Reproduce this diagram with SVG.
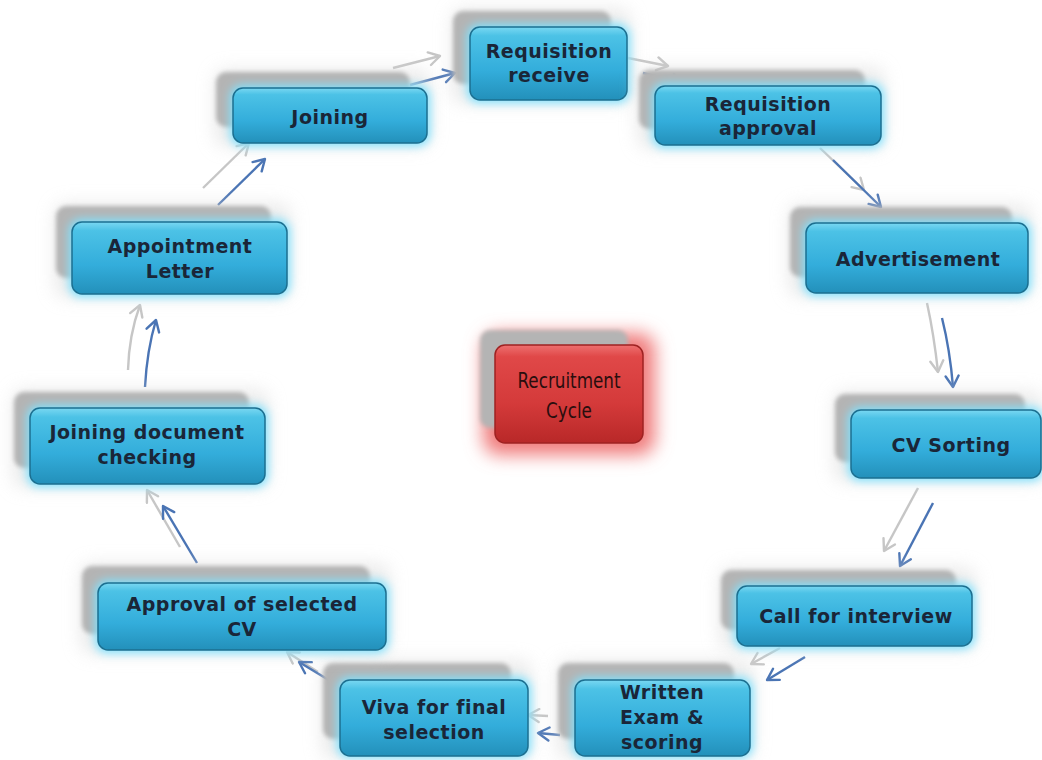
<svg xmlns="http://www.w3.org/2000/svg" width="1042" height="760" viewBox="0 0 1042 760">
<defs>
<linearGradient id="gBlue" x1="0" y1="0" x2="0" y2="1">
<stop offset="0" stop-color="#7ad8f2"/>
<stop offset="0.12" stop-color="#4cc2e6"/>
<stop offset="0.6" stop-color="#33addb"/>
<stop offset="1" stop-color="#2390ba"/>
</linearGradient>
<linearGradient id="gRed" x1="0" y1="0" x2="0" y2="1">
<stop offset="0" stop-color="#ee7070"/>
<stop offset="0.12" stop-color="#e04848"/>
<stop offset="0.6" stop-color="#d43a3a"/>
<stop offset="1" stop-color="#b82828"/>
</linearGradient>
<filter id="fGlow" x="-30%" y="-50%" width="160%" height="200%"><feGaussianBlur stdDeviation="5"/></filter>
<filter id="fShadow" x="-20%" y="-40%" width="140%" height="180%"><feGaussianBlur stdDeviation="2"/></filter>
<filter id="fHalo" x="-30%" y="-50%" width="160%" height="200%"><feGaussianBlur stdDeviation="9"/></filter>
<marker id="ahGray" viewBox="0 0 16 16" refX="13" refY="8" markerWidth="16" markerHeight="16" orient="auto" markerUnits="userSpaceOnUse">
<path d="M2,1.5 L13,8 L2,14.5" fill="none" stroke="#c6c6c6" stroke-width="2.4" stroke-linecap="round" stroke-linejoin="round"/>
</marker>
<marker id="ahBlue" viewBox="0 0 16 16" refX="13" refY="8" markerWidth="16" markerHeight="16" orient="auto" markerUnits="userSpaceOnUse">
<path d="M2,1.5 L13,8 L2,14.5" fill="none" stroke="#4a74b4" stroke-width="2.4" stroke-linecap="round" stroke-linejoin="round"/>
</marker>
</defs>
<style>
.halo{fill:#d8d8d8;opacity:0.55;filter:url(#fHalo)}
.shadow{fill:#b4b4b4;filter:url(#fShadow)}
.glow{fill:#7fe2ff;filter:url(#fGlow)}
.box{fill:url(#gBlue);stroke:#1c6f90;stroke-width:1.5}
.rglow{fill:#f07c7c;filter:url(#fHalo)}
.rbox{fill:url(#gRed);stroke:#9e2222;stroke-width:1.5}
.lbl{font-family:"DejaVu Sans","Liberation Sans",sans-serif;font-size:19px;font-weight:bold;fill:#1a2638;text-anchor:middle;letter-spacing:0.5px}
.rlbl{font-family:"DejaVu Sans","Liberation Sans",sans-serif;font-size:21px;font-weight:normal;fill:#2a0e0e;text-anchor:middle}
.cg{fill:none;stroke:#c6c6c6;stroke-width:2.4;marker-end:url(#ahGray)}
.cb{fill:none;stroke:#4a74b4;stroke-width:2.4;marker-end:url(#ahBlue)}
</style>
<rect width="1042" height="760" fill="#ffffff"/>

<g id="connectors">
<path class="cg" d="M393,68 L440,56"/>
<path class="cb" d="M410,85 L455,73"/>
<path class="cg" d="M628,58 L668,66"/>
<path class="cb" d="M643,73 L683,83"/>
<path class="cg" d="M820,148 L864,190"/>
<path class="cb" d="M833,160 L881,207"/>
<path class="cg" d="M927,303 Q934,335 938,372"/>
<path class="cb" d="M942,318 Q950,350 953,387"/>
<path class="cg" d="M918,488 L884,551"/>
<path class="cb" d="M933,503 L900,566"/>
<path class="cg" d="M780,648 L751,664"/>
<path class="cb" d="M805,657 L767,680"/>
<path class="cg" d="M548,716 L528,715"/>
<path class="cb" d="M560,735 L538,733"/>
<path class="cg" d="M318,672 L287,652"/>
<path class="cb" d="M332,682 L299,662"/>
<path class="cg" d="M180,547 L147,490"/>
<path class="cb" d="M197,563 L163,506"/>
<path class="cg" d="M128,370 Q129,335 140,305"/>
<path class="cb" d="M145,387 Q147,350 156,320"/>
<path class="cg" d="M203,188 L249,143"/>
<path class="cb" d="M218,205 L265,159"/>
</g>

<g id="n-req-receive">
<rect class="halo" x="452" y="9" width="178" height="94" rx="10"/>
<rect class="shadow" x="453" y="11" width="158" height="73" rx="10"/>
<rect class="glow" x="467" y="24" width="163" height="79" rx="12"/>
<rect class="box" x="470" y="27" width="157" height="73" rx="10"/>
<text class="lbl" x="549" y="58">Requisition</text>
<text class="lbl" x="549" y="82">receive</text>
</g>

<g id="n-req-approval">
<rect class="halo" x="638" y="68" width="246" height="80" rx="10"/>
<rect class="shadow" x="639" y="70" width="226" height="59" rx="10"/>
<rect class="glow" x="652" y="83" width="232" height="65" rx="12"/>
<rect class="box" x="655" y="86" width="226" height="59" rx="10"/>
<text class="lbl" x="768" y="111">Requisition</text>
<text class="lbl" x="768" y="135">approval</text>
</g>

<g id="n-advertisement">
<rect class="halo" x="789" y="205" width="242" height="91" rx="10"/>
<rect class="shadow" x="790" y="207" width="222" height="70" rx="10"/>
<rect class="glow" x="803" y="220" width="228" height="76" rx="12"/>
<rect class="box" x="806" y="223" width="222" height="70" rx="10"/>
<text class="lbl" x="918" y="266">Advertisement</text>
</g>

<g id="n-cv-sorting">
<rect class="halo" x="834" y="392" width="208" height="89" rx="10"/>
<rect class="shadow" x="835" y="394" width="190" height="68" rx="10"/>
<rect class="glow" x="848" y="407" width="196" height="74" rx="12"/>
<rect class="box" x="851" y="410" width="190" height="68" rx="10"/>
<text class="lbl" x="951" y="452">CV Sorting</text>
</g>

<g id="n-call-interview">
<rect class="halo" x="720" y="568" width="255" height="81" rx="10"/>
<rect class="shadow" x="721" y="570" width="235" height="60" rx="10"/>
<rect class="glow" x="734" y="583" width="241" height="66" rx="12"/>
<rect class="box" x="737" y="586" width="235" height="60" rx="10"/>
<text class="lbl" x="856" y="623">Call for interview</text>
</g>

<g id="n-written-exam">
<rect class="halo" x="557" y="661" width="196" height="97" rx="10"/>
<rect class="shadow" x="558" y="663" width="176" height="76" rx="10"/>
<rect class="glow" x="572" y="677" width="181" height="81" rx="12"/>
<rect class="box" x="575" y="680" width="175" height="76" rx="10"/>
<text class="lbl" x="662" y="699">Written</text>
<text class="lbl" x="662" y="724">Exam &amp;</text>
<text class="lbl" x="662" y="749">scoring</text>
</g>

<g id="n-viva">
<rect class="halo" x="322" y="661" width="209" height="97" rx="10"/>
<rect class="shadow" x="323" y="663" width="188" height="76" rx="10"/>
<rect class="glow" x="337" y="677" width="194" height="81" rx="12"/>
<rect class="box" x="340" y="680" width="188" height="76" rx="10"/>
<text class="lbl" x="434" y="714">Viva for final</text>
<text class="lbl" x="434" y="739">selection</text>
</g>

<g id="n-approval-cv">
<rect class="halo" x="81" y="564" width="308" height="89" rx="10"/>
<rect class="shadow" x="82" y="566" width="288" height="68" rx="10"/>
<rect class="glow" x="95" y="580" width="294" height="73" rx="12"/>
<rect class="box" x="98" y="583" width="288" height="67" rx="10"/>
<text class="lbl" x="242" y="611">Approval of selected</text>
<text class="lbl" x="242" y="636">CV</text>
</g>

<g id="n-joining-doc">
<rect class="halo" x="13" y="390" width="255" height="97" rx="10"/>
<rect class="shadow" x="14" y="392" width="235" height="76" rx="10"/>
<rect class="glow" x="27" y="405" width="241" height="82" rx="12"/>
<rect class="box" x="30" y="408" width="235" height="76" rx="10"/>
<text class="lbl" x="147" y="439">Joining document</text>
<text class="lbl" x="147" y="464">checking</text>
</g>

<g id="n-appointment">
<rect class="halo" x="55" y="204" width="235" height="93" rx="10"/>
<rect class="shadow" x="56" y="206" width="215" height="72" rx="10"/>
<rect class="glow" x="69" y="219" width="221" height="78" rx="12"/>
<rect class="box" x="72" y="222" width="215" height="72" rx="10"/>
<text class="lbl" x="180" y="253">Appointment</text>
<text class="lbl" x="180" y="278">Letter</text>
</g>

<g id="n-joining">
<rect class="halo" x="215" y="70" width="215" height="76" rx="10"/>
<rect class="shadow" x="216" y="72" width="194" height="55" rx="10"/>
<rect class="glow" x="230" y="85" width="200" height="61" rx="12"/>
<rect class="box" x="233" y="88" width="194" height="55" rx="10"/>
<text class="lbl" x="330" y="124">Joining</text>
</g>

<g id="n-recruitment-cycle">
<rect class="rglow" x="483" y="333" width="172" height="122" rx="16"/>
<rect class="shadow" x="480" y="330" width="148" height="98" rx="10"/>
<rect class="rbox" x="495" y="345" width="148" height="98" rx="10"/>
<text class="rlbl" transform="translate(569,0) scale(0.8,1)" x="0" y="388">Recruitment</text>
<text class="rlbl" transform="translate(569,0) scale(0.8,1)" x="0" y="418">Cycle</text>
</g>
</svg>
